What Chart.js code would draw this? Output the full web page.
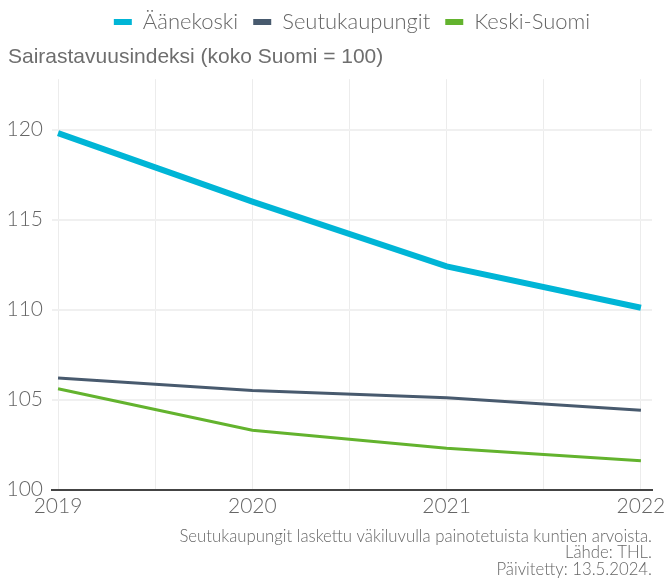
<!DOCTYPE html>
<html>
<head>
<meta charset="utf-8">
<script src="https://cdn.jsdelivr.net/npm/chart.js@4"></script>
<style>
  body { margin: 0; background: #fff; }
  #wrap { width: 666px; height: 579px; position: relative; }
</style>
</head>
<body>
<div id="wrap"><canvas id="myChart"></canvas></div>
<script>
// data
var years = [2019, 2020, 2021, 2022];
var aanekoski = [119.8, 116.0, 112.4, 110.1];
var seutukaupungit = [106.2, 105.5, 105.1, 104.4];
var keskiSuomi = [105.6, 103.3, 102.3, 101.6];
var yTicks = [100, 105, 110, 115, 120];
var xGrid = [2019, 2019.5, 2020, 2020.5, 2021, 2021.5, 2022];
var footerLines = [
	"Seutukaupungit laskettu väkiluvulla painotetuista kuntien arvoista.",
	"Lähde: THL.",
	"Päivitetty: 13.5.2024.",
];

function points(vals) {
	return vals.map(function (v, i) {
		return { x: years[i], y: v };
	});
}

// center the legend over the plot area instead of the whole canvas
var legendOverPlot = {
	id: "legendOverPlot",
	afterLayout: function (chart) {
		var lg = chart.legend;
		if (!lg) return;
		lg.left = chart.chartArea.left;
		lg.right = chart.chartArea.right;
		lg.width = lg.right - lg.left;
	},
};

var gray = "#666";
var ctx = document.getElementById("myChart").getContext("2d");
var myChart = new Chart(ctx, {
	type: "line",
	data: {
		datasets: [
			{
				label: "Äänekoski",
				data: points(aanekoski),
				borderColor: "#00b5d6",
				backgroundColor: "#00b5d6",
				borderWidth: 6,
				pointRadius: 0,
			},
			{
				label: "Seutukaupungit",
				data: points(seutukaupungit),
				borderColor: "#485a6e",
				backgroundColor: "#485a6e",
				borderWidth: 3,
				pointRadius: 0,
			},
			{
				label: "Keski-Suomi",
				data: points(keskiSuomi),
				borderColor: "#63b32e",
				backgroundColor: "#63b32e",
				borderWidth: 3,
				pointRadius: 0,
			},
		],
	},
	plugins: [legendOverPlot],
	options: {
		responsive: true,
		maintainAspectRatio: false,
		animation: false,
		layout: { padding: { left: 8, right: 14, top: -4, bottom: 0 } },
		plugins: {
			legend: {
				position: "top",
				labels: {
					boxWidth: 18,
					boxHeight: 6,
					padding: 15,
					color: gray,
					font: { family: "Lato", size: 22, weight: 300 },
					generateLabels: function (chart) {
						var items = Chart.defaults.plugins.legend.labels.generateLabels(chart);
						items.forEach(function (it) {
							it.lineWidth = 0;
						});
						return items;
					},
				},
			},
			title: {
				display: true,
				text: "Sairastavuusindeksi (koko Suomi = 100)",
				align: "start",
				weight: 500,
				color: "#6e6e6e",
				font: { family: "Liberation Sans", size: 21, weight: "normal" },
				padding: { top: 2, bottom: 9 },
			},
			subtitle: {
				display: true,
				position: "bottom",
				align: "end",
				text: footerLines,
				color: gray,
				font: { family: "Lato", size: 16.75, weight: 300, lineHeight: 1.0 },
				padding: { top: 5, bottom: 1 },
			},
			tooltip: { enabled: false },
		},
		scales: {
			x: {
				type: "linear",
				min: 2018.969,
				max: 2022.057,
				afterBuildTicks: function (axis) {
					axis.ticks = xGrid.map(function (v) {
						return { value: v };
					});
				},
				afterFit: function (axis) {
					axis.paddingLeft = 0;
					axis.paddingRight = 0;
				},
				ticks: {
					autoSkip: false,
					maxRotation: 0,
					padding: 4,
					color: gray,
					font: { family: "Lato", size: 21, weight: 300 },
					callback: function (v) {
						return Number.isInteger(v) ? String(v) : "";
					},
				},
				grid: { color: "#ececec", drawTicks: false },
				border: { display: true, color: "#444", width: 2 },
			},
			y: {
				min: 100,
				max: 122.8,
				afterBuildTicks: function (axis) {
					axis.ticks = yTicks.map(function (v) {
						return { value: v };
					});
				},
				afterFit: function (axis) {
					axis.width = 44;
				},
				ticks: {
					padding: 9,
					color: gray,
					font: { family: "Lato", size: 21, weight: 300 },
				},
				grid: { color: "#f0f0f0", drawTicks: false, lineWidth: 2 },
				border: { display: false },
			},
		},
	},
});
</script>
</body>
</html>
